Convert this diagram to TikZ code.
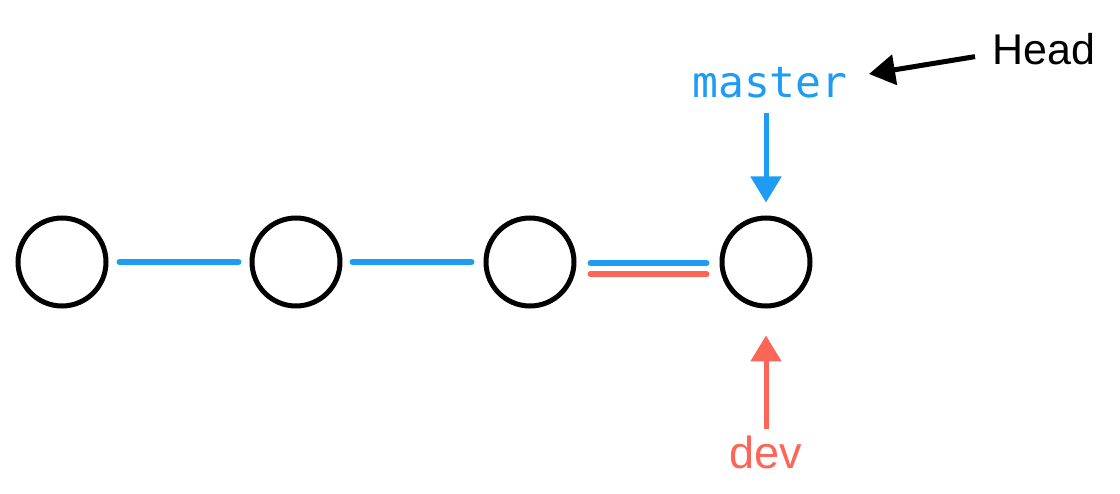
\documentclass[tikz,border=0pt]{standalone}
\usepackage{fontspec}
\setmainfont{Liberation Sans}
\newfontfamily\mastermono{DejaVu Sans Mono}
\usetikzlibrary{arrows.meta,calc}
\definecolor{gitblue}{RGB}{30,155,242}
\definecolor{gitred}{RGB}{252,102,87}
\begin{document}
\begin{tikzpicture}[x=1pt,y=-1pt,
  commit/.style={circle,draw=black,line width=5pt,minimum size=88pt,inner sep=0pt},
  link/.style={line width=6pt,line cap=round},
  pointer/.style={line width=5pt,-{Triangle[width=30pt,length=26pt]}},
  lbl/.style={inner sep=0pt,anchor=base}]
\useasboundingbox (0,0) rectangle (1120,494);
\node[commit] (c1) at (62,262) {};
\node[commit] (c2) at (296,262) {};
\node[commit] (c3) at (530,262) {};
\node[commit] (c4) at (766,262) {};
\draw[link,gitblue,shorten <=11pt,shorten >=11pt] (c1.east) -- (c2.west);
\draw[link,gitblue,shorten <=10pt,shorten >=12pt] (c2.east) -- (c3.west);
\draw[link,gitblue,shorten <=14pt,shorten >=13pt] ([yshift=-1pt]c3.east) -- ([yshift=-1pt]c4.west);
\draw[link,gitred,shorten <=14pt,shorten >=13pt] ([yshift=-12pt]c3.east) -- ([yshift=-12pt]c4.west);
\node[lbl,text=gitblue,font=\mastermono\fontsize{43}{50}\selectfont] (master) at (770,98) {master};
\node[lbl,anchor=base west,font=\fontsize{43}{50}\selectfont] (head) at (992,65) {Head};
\node[lbl,text=gitred,font=\fontsize{45}{52}\selectfont] (dev) at (766,468) {dev};
\coordinate (htip) at (869,74);
\draw[pointer,gitblue,shorten <=14pt,shorten >=13pt] (master.south -| c4) -- (c4.north);
\draw[pointer,gitred,shorten <=6pt,shorten >=27pt] (dev.north -| c4) -- (c4.south);
\draw[pointer,black] ([xshift=-17pt,yshift=-7pt]head.west) -- (htip);
\end{tikzpicture}
\end{document}
